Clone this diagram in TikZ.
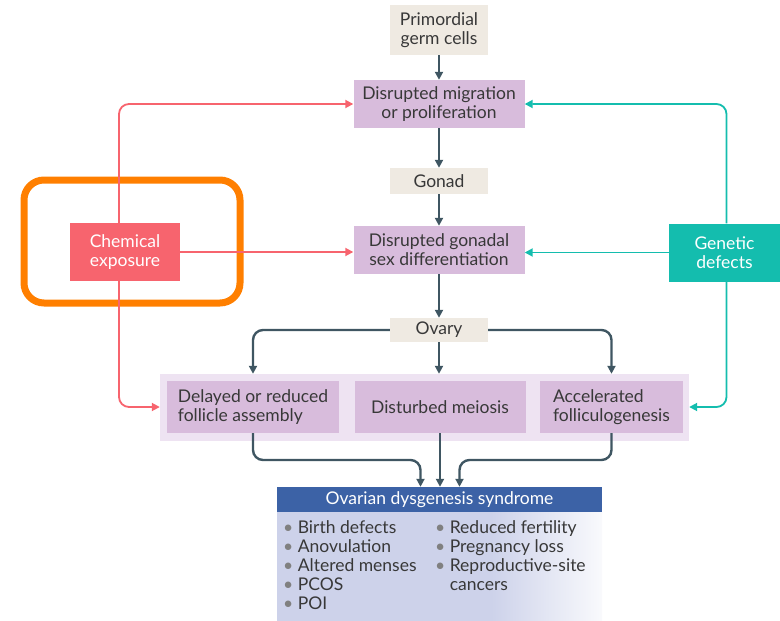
\documentclass[tikz,border=0pt]{standalone}
\usepackage{fontspec}
\setmainfont{Lato}
\usetikzlibrary{arrows.meta}
\definecolor{pale}{HTML}{EFEAE2}
\definecolor{lilac}{HTML}{D8BCDC}
\definecolor{bandfill}{HTML}{EEE3F2}
\definecolor{slate}{HTML}{3F5662}
\definecolor{chemred}{HTML}{F7646E}
\definecolor{genteal}{HTML}{14BDAE}
\definecolor{frameorange}{HTML}{FF7F00}
\definecolor{odsblue}{HTML}{3C62A6}
\definecolor{odsbody}{HTML}{CDD2EA}
\definecolor{ink}{HTML}{383838}
\pgfdeclarehorizontalshading{odsfade}{100bp}{color(0bp)=(odsbody); color(25bp)=(odsbody); color(58bp)=(odsbody); color(75bp)=(odsbody!12); color(100bp)=(odsbody!12)}
\begin{document}
\begin{tikzpicture}[x=1pt, y=-1pt,
  every node/.style={font=\fontsize{17.5}{19}\selectfont, inner sep=0pt, align=center},
  stage/.style={fill=pale, text=ink, minimum width=98},
  effect/.style={fill=lilac, text=ink, minimum height=48},
  cause/.style={text=white, minimum width=110, minimum height=58},
  flow/.style={draw=slate, line width=2.4pt, rounded corners=10pt, -{Triangle[length=8pt, width=8pt]}},
  chemline/.style={draw=chemred, line width=1.8pt, rounded corners=10pt, -{Triangle[length=8pt, width=8pt]}},
  genline/.style={draw=genteal, line width=1.8pt, rounded corners=10pt, -{Triangle[length=8pt, width=8pt]}}]
\useasboundingbox (0,0) rectangle (780,621);

% main stages
\node [stage, minimum height=50] (pgc) at (439,30) {Primordial\\germ cells};
\node [effect, minimum width=171] (mig) at (439,104) {Disrupted migration\\or proliferation};
\node [stage, minimum height=26] (gonad) at (439,181) {Gonad};
\node [effect, minimum width=171] (sex) at (439,250) {Disrupted gonadal\\sex differentiation};
\node [stage, minimum height=24] (ovary) at (439,330) {Ovary};

% follicle row
\node [fill=bandfill, minimum width=529, minimum height=67] (band) at (424.5,407.5) {};
\node [effect, minimum width=172, minimum height=52, align=left] (delay) at (253,407) {Delayed or reduced\\follicle assembly};
\node [effect, minimum width=171, minimum height=52] (meiosis) at (440,407) {Disturbed meiosis};
\node [effect, minimum width=143, minimum height=52, align=left] (accel) at (611.5,407) {Accelerated\\folliculogenesis};

% syndrome
\node [fill=odsblue, text=white, minimum width=325, minimum height=25] (ods) at (439.5,499.5) {Ovarian dysgenesis syndrome};
\node [shading=odsfade, minimum width=325, minimum height=108] (odsbody) at (439.5,566) {};
\node [anchor=north west, align=left, text=ink] (signs-a) at (283,520)
  {{\color{gray}\textbullet} Birth defects\\{\color{gray}\textbullet} Anovulation\\{\color{gray}\textbullet} Altered menses\\{\color{gray}\textbullet} PCOS\\{\color{gray}\textbullet} POI};
\node [anchor=north west, align=left, text=ink] (signs-b) at (435,520)
  {{\color{gray}\textbullet} Reduced fertility\\{\color{gray}\textbullet} Pregnancy loss\\{\color{gray}\textbullet} Reproductive-site\\\phantom{\textbullet} cancers};

% causes
\node [cause, fill=chemred] (chem) at (125,252) {Chemical\\exposure};
\node [cause, fill=genteal, minimum width=111] (gen) at (724.5,252.5) {Genetic\\defects};
\draw [frameorange, line width=7pt, rounded corners=20pt] (24,180) rectangle (240,303);

% cascade
\draw [flow] (pgc) -- (mig);
\draw [flow] (mig) -- (gonad);
\draw [flow] (gonad) -- (sex);
\draw [flow] (sex) -- (ovary);
\draw [flow] (ovary.west) -| (delay.north |- band.north);
\draw [flow] (ovary) -- (ovary |- band.north);
\draw [flow] (ovary.east) -| (accel.north |- band.north);
\coordinate (lane) at (0,460);
\draw [flow] (delay.south) |- ([xshift=-19pt]ods.north |- lane) -- ([xshift=-19pt]ods.north);
\draw [flow] (meiosis.south) -- (meiosis.south |- ods.north);
\draw [flow] (accel.south) |- ([xshift=20pt]ods.north |- lane) -- ([xshift=20pt]ods.north);

% chemical exposure
\draw [chemline] ([xshift=-6pt]chem.north) |- (mig.west);
\draw [chemline] (chem.east) -- (sex.west |- chem.east);
\draw [chemline] ([xshift=-6pt]chem.south) |- (band.west |- delay);

% genetic defects
\draw [genline] ([xshift=2pt]gen.north) |- (mig.east);
\draw [genline] (gen.west) -- (sex.east |- gen.west);
\draw [genline] ([xshift=2pt]gen.south) |- (band.east |- accel);
\end{tikzpicture}
\end{document}
